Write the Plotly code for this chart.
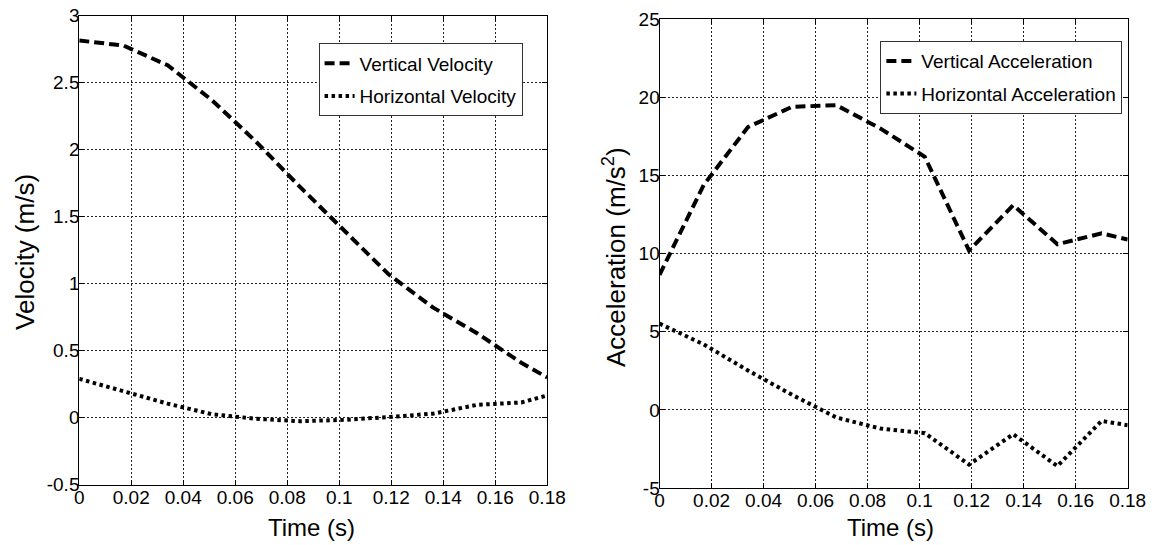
import plotly.graph_objects as go

# ---- data ----
time_s = [0, 0.017, 0.034, 0.051, 0.068, 0.085, 0.102, 0.119, 0.136, 0.153, 0.170, 0.18]
vertical_velocity = [2.815, 2.777, 2.63, 2.37, 2.06, 1.72, 1.395, 1.07, 0.823, 0.63, 0.41, 0.30]
horizontal_velocity = [0.29, 0.20, 0.105, 0.026, -0.008, -0.026, -0.016, 0.005, 0.03, 0.096, 0.114, 0.166]
vertical_accel = [8.64, 14.4, 18.1, 19.4, 19.5, 18.0, 16.2, 10.2, 13.1, 10.6, 11.3, 10.9]
horizontal_accel = [5.52, 4.19, 2.52, 0.96, -0.49, -1.2, -1.49, -3.5, -1.56, -3.6, -0.71, -0.98]

x_ticks = [0, 0.02, 0.04, 0.06, 0.08, 0.1, 0.12, 0.14, 0.16, 0.18]
x_ticklabels = ["0", "0.02", "0.04", "0.06", "0.08", "0.1", "0.12", "0.14", "0.16", "0.18"]
v_ticks = [-0.5, 0, 0.5, 1, 1.5, 2, 2.5, 3]
v_ticklabels = ["-0.5", "0", "0.5", "1", "1.5", "2", "2.5", "3"]
a_ticks = [-5, 0, 5, 10, 15, 20, 25]
a_ticklabels = ["-5", "0", "5", "10", "15", "20", "25"]

FONT = "Liberation Sans, Arial, sans-serif"
DASH = "10px,5px"
DOT = "3.5px,3.5px"

fig = go.Figure()
fig.add_trace(go.Scatter(x=time_s, y=vertical_velocity, mode="lines", name="Vertical Velocity",
                         line=dict(color="black", width=4, dash=DASH),
                         xaxis="x", yaxis="y", legend="legend", legendgroup="a"))
fig.add_trace(go.Scatter(x=time_s, y=horizontal_velocity, mode="lines", name="Horizontal Velocity",
                         line=dict(color="black", width=4, dash=DOT),
                         xaxis="x", yaxis="y", legend="legend", legendgroup="b"))
fig.add_trace(go.Scatter(x=time_s, y=vertical_accel, mode="lines", name="Vertical Acceleration",
                         line=dict(color="black", width=4, dash=DASH),
                         xaxis="x2", yaxis="y2", legend="legend2", legendgroup="c"))
fig.add_trace(go.Scatter(x=time_s, y=horizontal_accel, mode="lines", name="Horizontal Acceleration",
                         line=dict(color="black", width=4, dash=DOT),
                         xaxis="x2", yaxis="y2", legend="legend2", legendgroup="d"))

axis_common = dict(showline=True, linecolor="black", linewidth=1, mirror="ticks",
                   ticks="inside", ticklen=5, tickcolor="black", automargin=False,
                   showgrid=True, gridcolor="#222222", griddash="2px,2px", gridwidth=1,
                   zeroline=False, ticklabelstandoff=-5, ticklabeloverflow="allow",
                   tickfont=dict(family=FONT, size=19, color="black"))

legend_common = dict(xanchor="left", yanchor="top", bgcolor="white", bordercolor="#333333",
                     borderwidth=1, font=dict(family=FONT, size=19, color="black"),
                     tracegroupgap=5, traceorder="grouped")

# page body has an 8px margin, so paper coordinates are shifted by 8px
fig.update_layout(
    width=1155, height=545,
    margin=dict(l=0, r=0, t=0, b=0),
    paper_bgcolor="white", plot_bgcolor="white",
    font=dict(family=FONT, color="black"),
    xaxis=dict(domain=[0.0617, 0.4669], range=[0, 0.18], tickvals=x_ticks, ticktext=x_ticklabels,
               anchor="y", **axis_common),
    yaxis=dict(domain=[0.1253, 0.9859], range=[-0.5, 3], tickvals=v_ticks, ticktext=v_ticklabels,
               anchor="x", **axis_common),
    xaxis2=dict(domain=[0.5641, 0.9694], range=[0, 0.18], tickvals=x_ticks, ticktext=x_ticklabels,
                anchor="y2", **axis_common),
    yaxis2=dict(domain=[0.1193, 0.9793], range=[-5, 25], tickvals=a_ticks, ticktext=a_ticklabels,
                anchor="x2", **axis_common),
    legend=dict(x=0.2689, y=0.935, **legend_common),
    legend2=dict(x=0.7553, y=0.9394, **legend_common),
    showlegend=True,
    annotations=[
        dict(text="Time (s)", x=0.2632, y=0.0477, xref="paper", yref="paper",
             xanchor="center", yanchor="middle", showarrow=False, font=dict(size=24)),
        dict(text="Time (s)", x=0.7645, y=0.0459, xref="paper", yref="paper",
             xanchor="center", yanchor="middle", showarrow=False, font=dict(size=24)),
        dict(text="Velocity (m/s)", x=0.0147, y=0.5523, xref="paper", yref="paper", textangle=-90,
             xanchor="center", yanchor="middle", showarrow=False, font=dict(size=26)),
        dict(text="Acceleration (m/s<sup>2</sup>)", x=0.5247, y=0.5431, xref="paper", yref="paper",
             textangle=-90, xanchor="center", yanchor="middle", showarrow=False, font=dict(size=26)),
    ],
)

fig.write_html("out.html")
